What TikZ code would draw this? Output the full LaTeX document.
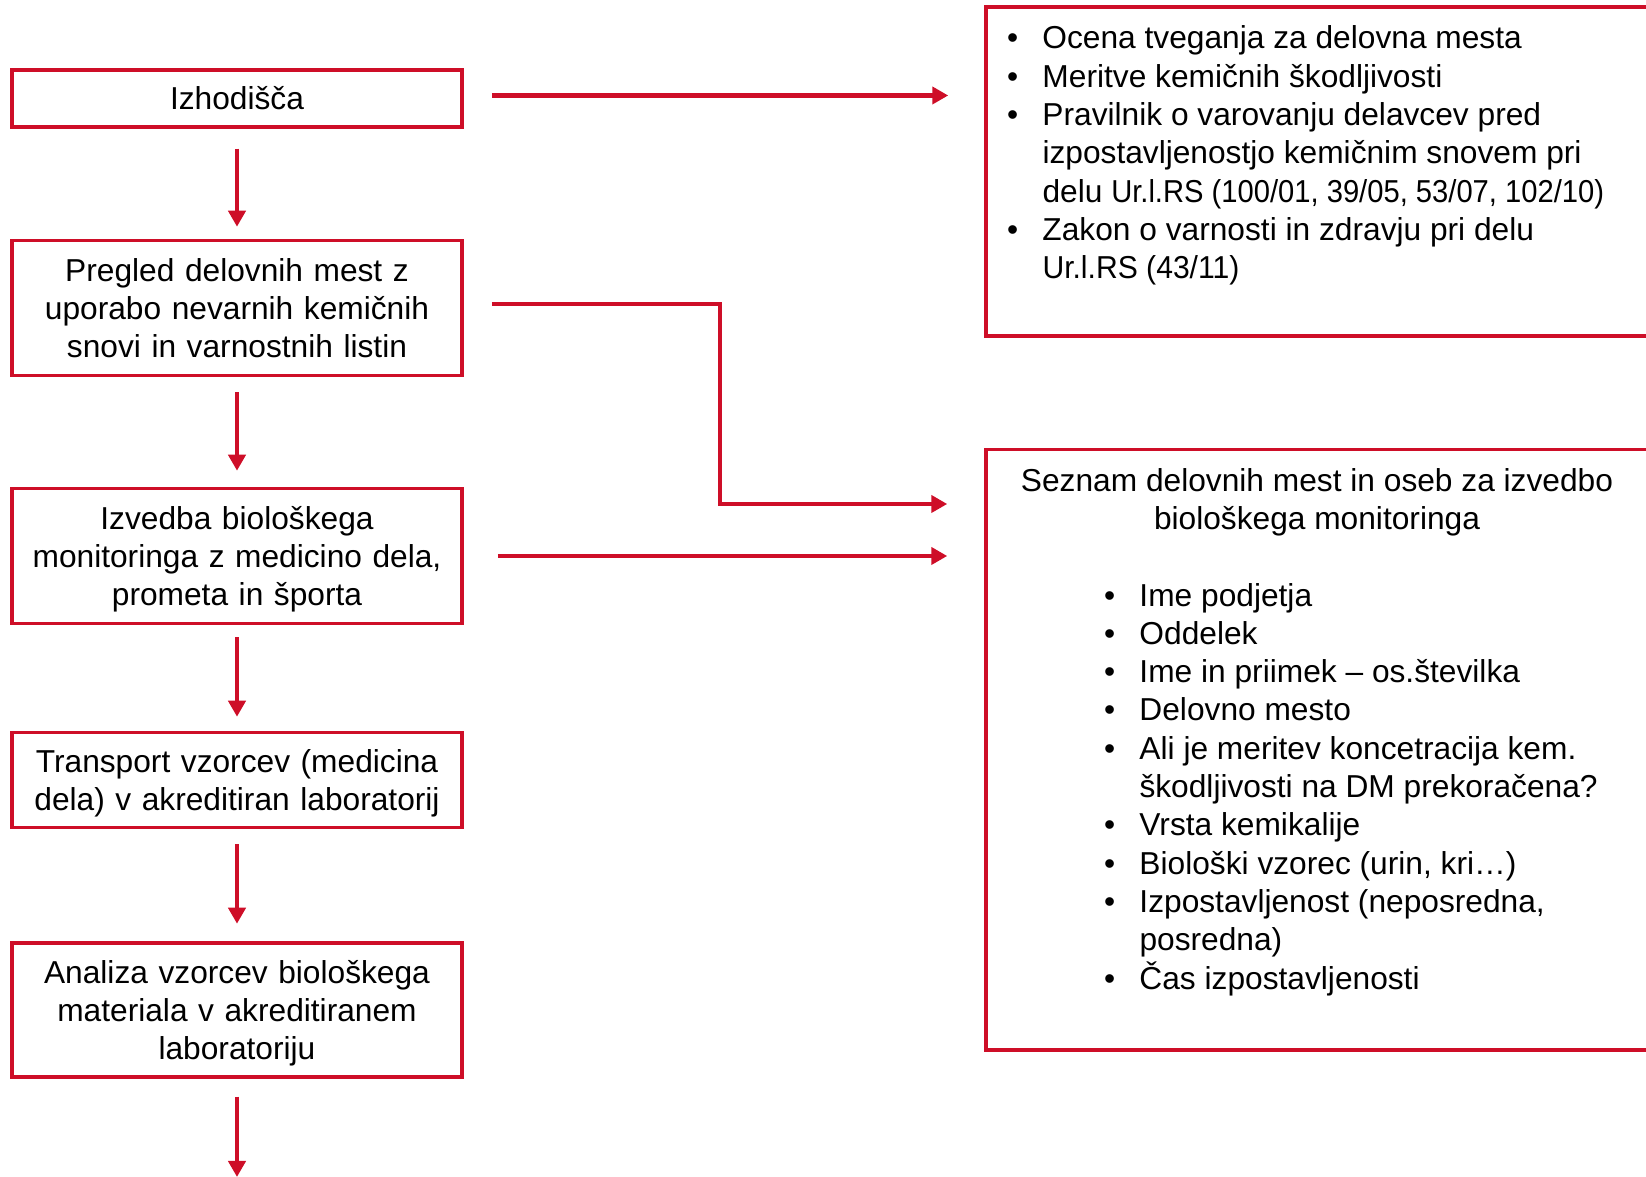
\documentclass[tikz,border=0pt]{standalone}
\usepackage{fontspec}
\setmainfont{Liberation Sans}
\usepackage{tikz}
\usetikzlibrary{arrows.meta,positioning}
\definecolor{boxred}{RGB}{206,14,40}
\newcommand{\blist}[1]{\begin{tabular}[t]{@{}p{35.5pt}@{}l@{}}#1\end{tabular}}
\newcommand{\lastline}[1]{\raisebox{0pt}[\height][0pt]{#1}}

\begin{document}
\begin{tikzpicture}[x=1pt,y=1pt,node distance=230pt,
  every node/.style={font=\fontsize{31.7pt}{38.3pt}\selectfont},
  stepbox/.style={draw=boxred,line width=3.5pt,minimum width=450pt,text width=440pt,align=center,inner sep=0pt},
  infobox/.style={draw=boxred,line width=3.5pt,inner sep=0pt,anchor=north west},
  arr/.style={draw=boxred,line width=4.5pt,-{Triangle[length=16pt,width=17pt]}}]

\useasboundingbox (0,0) rectangle (1646,1177);

% Nodes
\node[stepbox,minimum height=57pt] (izh) at (237,1078.5) {Izhodišča};
\node[stepbox,minimum height=135pt,below of = izh,yshift=20.5pt] (pregled) {Pregled delovnih mest z\\ uporabo nevarnih kemičnih\\ snovi in varnostnih listin};
\node[stepbox,minimum height=135pt,below of = pregled,yshift=-18pt] (izvedba) {Izvedba biološkega\\ monitoringa z medicino dela,\\ \lastline{prometa in športa}};
\node[stepbox,minimum height=95pt,below of = izvedba,yshift=6pt] (transport) {Transport vzorcev (medicina\\ \lastline{dela) v akreditiran laboratorij}};
\node[stepbox,minimum height=134pt,below of = transport] (analiza) {Analiza vzorcev biološkega\\ materiala v akreditiranem\\ \lastline{laboratoriju}};

\node[infobox] (ocena) at (984.25,1171.75) {\parbox[c][329pt][t]{662pt}{\vspace*{15.2pt}\hspace*{21pt}\blist{%
\textbullet & Ocena tveganja za delovna mesta\\
\textbullet & Meritve kemičnih škodljivosti\\
\textbullet & Pravilnik o varovanju delavcev pred\\
 & izpostavljenostjo kemičnim snovem pri\\
 & delu \scalebox{0.92}[1]{Ur.l.RS (100/01, 39/05, 53/07, 102/10)}\\
\textbullet & Zakon o varnosti in zdravju pri delu\\
 & \scalebox{0.95}[1]{Ur.l.RS (43/11)}}}\hspace*{30pt}};

\node[infobox] (seznam) at (984.25,729.25) {\parbox[c][600.5pt][t]{662pt}{\vspace*{14.7pt}{\centering\strut Seznam delovnih mest in oseb za izvedbo\\ biološkega monitoringa\par}\vspace{38.4pt}\hspace*{118pt}\blist{%
\textbullet & Ime podjetja\\
\textbullet & Oddelek\\
\textbullet & Ime in priimek – os.številka\\
\textbullet & Delovno mesto\\
\textbullet & Ali je meritev koncetracija kem.\\
 & škodljivosti na DM prekoračena?\\
\textbullet & Vrsta kemikalije\\
\textbullet & Biološki vzorec (urin, kri…)\\
\textbullet & Izpostavljenost (neposredna,\\
 & posredna)\\
\textbullet & Čas izpostavljenosti}}\hspace*{30pt}};

\coordinate (izhout) at ([yshift=3pt]izh.east);
\coordinate (pregout) at ([yshift=4pt]pregled.east);
\coordinate (kink) at (720,673);
\coordinate (down) at (237,0);

%arcs
\path (izh) edge[arr,shorten <=20pt,shorten >=12pt] (pregled);
\path (pregled) edge[arr,shorten <=15pt,shorten >=16pt] (izvedba);
\path (izvedba) edge[arr,shorten <=12pt,shorten >=14pt] (transport);
\path (transport) edge[arr,shorten <=15pt,shorten >=17.5pt] (analiza);
\path (analiza) edge[arr,shorten <=18pt] (down);

\path (izhout) edge[arr,shorten <=28pt,shorten >=36pt] (izhout -| ocena.west);
\draw[arr,shorten <=28pt,shorten >=37pt] (pregout) -| (kink) -- (kink -| seznam.west);
\path (izvedba) edge[arr,shorten <=34pt,shorten >=37pt] (izvedba -| seznam.west);

\end{tikzpicture}
\end{document}
